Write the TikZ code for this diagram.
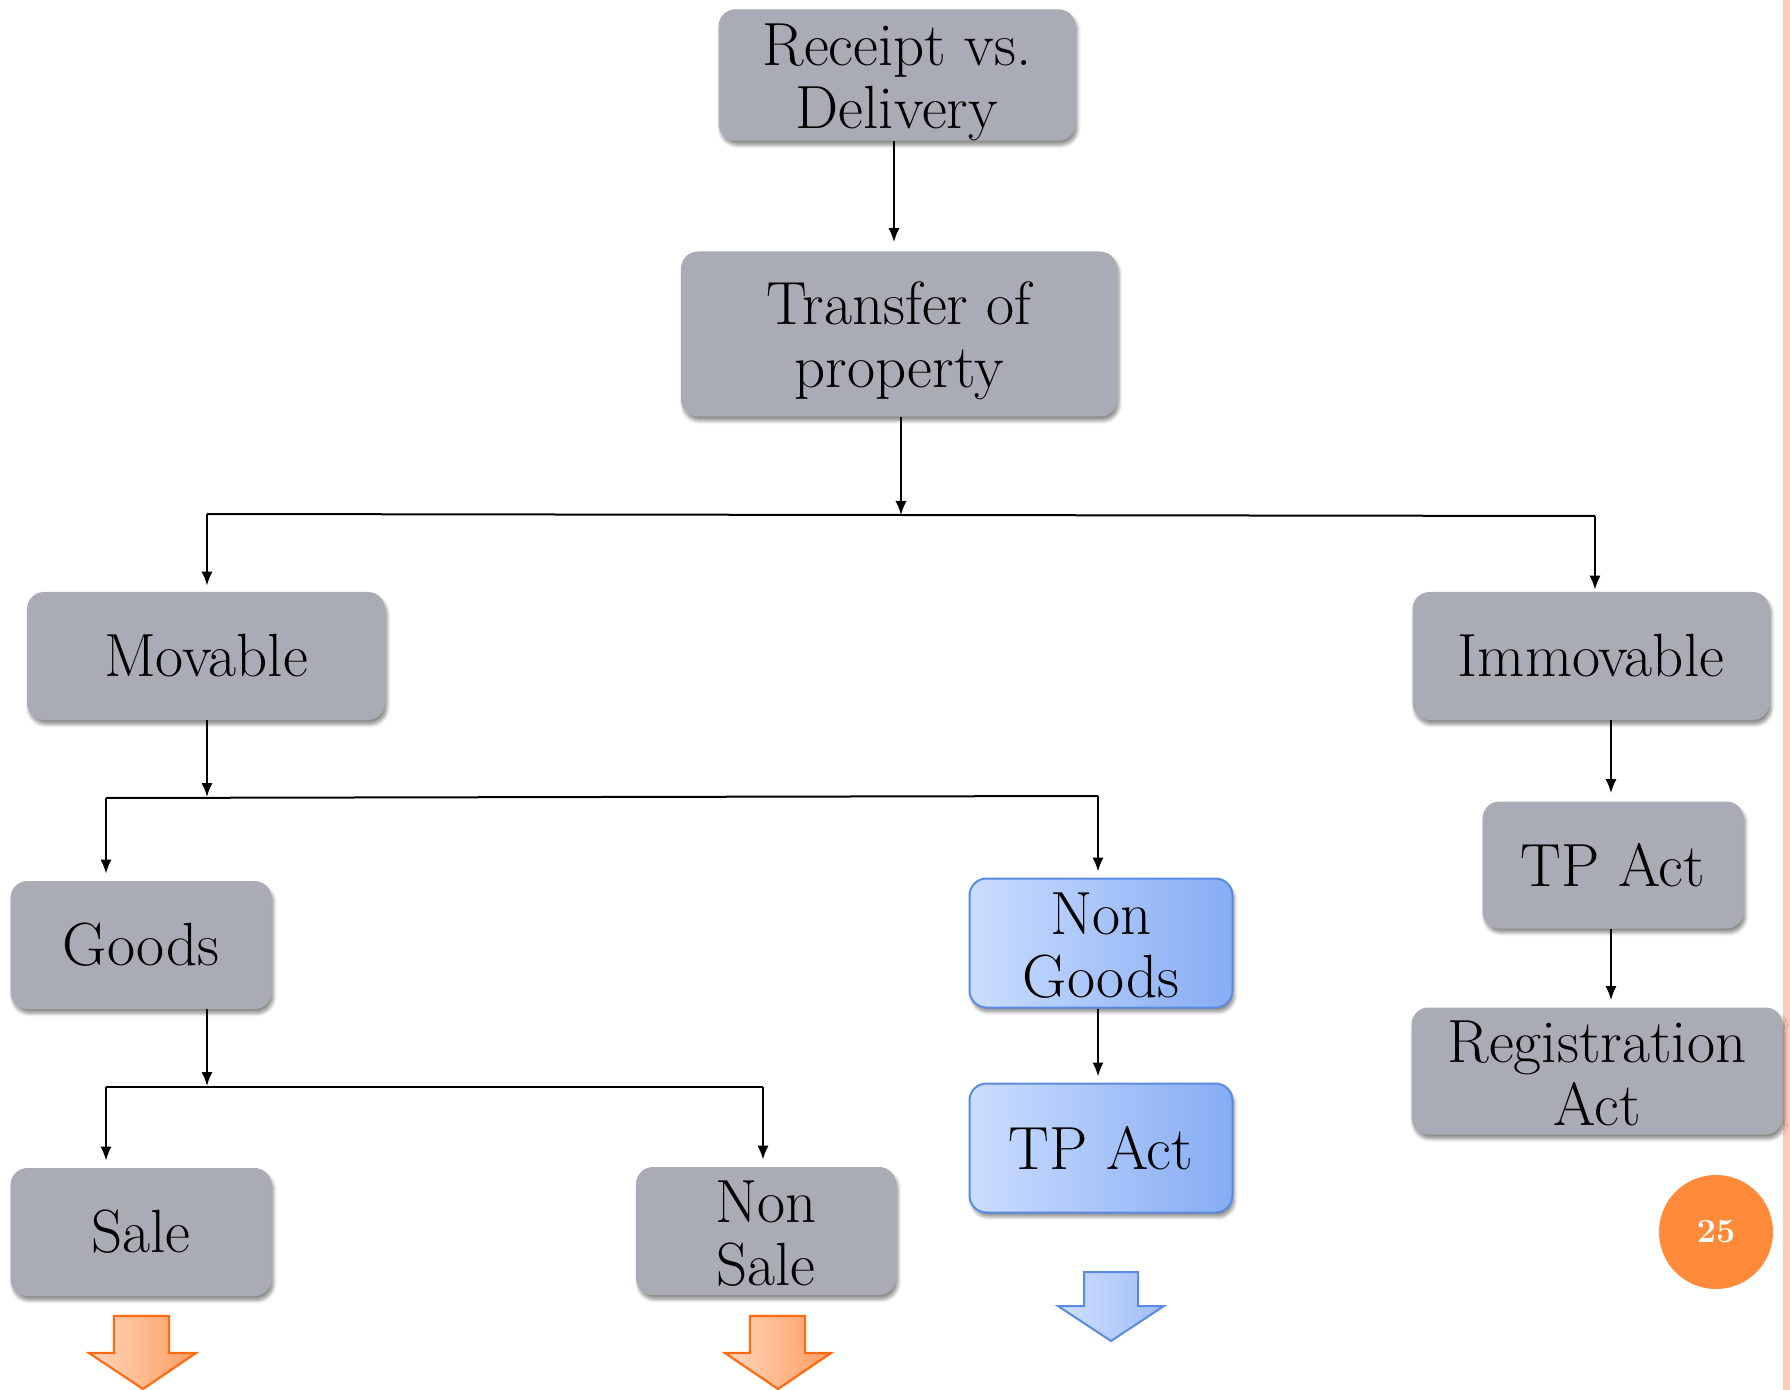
\documentclass[tikz,border=0pt]{standalone}
\usetikzlibrary{arrows.meta,shadows.blur}
\definecolor{boxgray}{HTML}{A9ACB4}
\definecolor{blueL}{HTML}{CBDDFF}
\definecolor{blueR}{HTML}{86ACF3}
\definecolor{blueEdge}{HTML}{5A8BE0}
\definecolor{orgL}{HTML}{FFD6BB}
\definecolor{orgR}{HTML}{FF9C62}
\definecolor{orgEdge}{HTML}{FF6A14}
\definecolor{badge}{HTML}{FF8A3A}
\definecolor{stripe}{HTML}{FDC9B8}
% taller first line so two-line labels sit a little lower in their boxes
\newcommand{\dropstrut}{\rule{0pt}{28pt}}
\newcommand{\smalldrop}{\rule{0pt}{23.5pt}}
\tikzset{
  box/.style={rounded corners=8.5pt, inner sep=0pt, align=center,
    font=\fontsize{30.5}{31.5}\selectfont,
    blur shadow={shadow xshift=1pt, shadow yshift=-2.2pt, shadow blur steps=6, shadow opacity=45}},
  graybox/.style={box, fill=boxgray},
  bluebox/.style={box, draw=blueEdge, line width=1pt, left color=blueL, right color=blueR},
  conn/.style={-{Latex[length=7pt,width=5.6pt]}, line width=1pt},
  wire/.style={line width=1pt},
  orangearrow/.style={draw=orgEdge, line width=1.1pt, line join=miter, left color=orgL, right color=orgR},
  bluearrow/.style={draw=blueEdge, line width=1pt, line join=miter, left color=blueL!90!white, right color=blueR!80!white}
}
\begin{document}
\begin{tikzpicture}[x=0.5pt,y=-0.5pt]
  \useasboundingbox (0,0) rectangle (1790,1390);
  \fill[stripe] (1783,0) rectangle (1790,1390);

  % boxes of the classification tree
  \node[graybox, minimum width=178.5pt, minimum height=64pt] (rec) at (897,75) {\dropstrut Receipt vs.\\Delivery};
  \node[graybox, minimum width=218pt, minimum height=82.5pt] (tr) at (899,334) {\dropstrut Transfer of\\property};
  \node[graybox, minimum width=179pt, minimum height=64pt] (mov) at (206,656) {Movable};
  \node[graybox, minimum width=178.5pt, minimum height=64pt] (imm) at (1591,656) {Immovable};
  \node[graybox, minimum width=130.5pt, minimum height=64pt] (goods) at (141,945) {Goods};
  \node[bluebox, minimum width=131.5pt, minimum height=64.5pt] (ngoods) at (1101,943) {\smalldrop Non\\Goods};
  \node[bluebox, minimum width=131.5pt, minimum height=64.5pt] (tpb) at (1101,1148) {TP Act};
  \node[graybox, minimum width=130.5pt, minimum height=64pt] (sale) at (141,1232) {Sale};
  \node[graybox, minimum width=130pt, minimum height=64pt] (nsale) at (766,1231) {\smalldrop Non\\Sale};
  \node[graybox, minimum width=130.5pt, minimum height=63.5pt] (tpr) at (1613,865) {TP Act};
  \node[graybox, minimum width=185.5pt, minimum height=63.5pt] (reg) at (1597,1071) {\smalldrop Registration\\Act};

  % branch points and drop lines
  \coordinate (c0) at (894,0);
  \coordinate (b1) at (901,515);
  \coordinate (b1l) at (207,514);
  \coordinate (b1r) at (1595,516);
  \coordinate (b2) at (207,797);
  \coordinate (b2l) at (106,798);
  \coordinate (b2r) at (1098,796);
  \coordinate (b3) at (207,1086);
  \coordinate (b3l) at (106,1087);
  \coordinate (b3r) at (763,1087);
  \coordinate (c4) at (1611,0);

  % connectors
  \draw[conn, shorten >=4.5pt] (rec.south -| c0) -- (tr.north -| c0);
  \draw[conn] (tr.south -| b1) -- (b1);
  \draw[wire] (b1l) -- (b1r);
  \draw[conn, shorten >=3pt] (b1l) -- (b1l |- mov.north);
  \draw[conn, shorten >=1pt] (b1r) -- (b1r |- imm.north);
  \draw[conn] (mov.south -| b2) -- (b2);
  \draw[wire] (b2l) -- (b2r);
  \draw[conn, shorten >=3.5pt] (b2l) -- (b2l |- goods.north);
  \draw[conn, shorten >=3pt] (b2r) -- (b2r |- ngoods.north);
  \draw[conn] (goods.south -| b3) -- (b3);
  \draw[wire] (b3l) -- (b3r);
  \draw[conn, shorten >=3.5pt] (b3l) -- (b3l |- sale.north);
  \draw[conn, shorten >=3.5pt] (b3r) -- (b3r |- nsale.north);
  \draw[conn, shorten >=3pt] (ngoods.south -| b2r) -- (tpb.north -| b2r);
  \draw[conn, shorten >=4pt] (imm.south -| c4) -- (tpr.north -| c4);
  \draw[conn, shorten >=3.5pt] (tpr.south -| c4) -- (reg.north -| c4);

  % block arrows below the leaves
  \draw[orangearrow] (114,1316) -- (169,1316) -- (169,1353) -- (196,1353) -- (143,1389)
    -- (89,1353) -- (114,1353) -- cycle;
  \draw[orangearrow] (750,1316) -- (805,1316) -- (805,1353) -- (831,1353) -- (778,1389)
    -- (725,1353) -- (750,1353) -- cycle;
  \draw[bluearrow] (1084,1272) -- (1138,1272) -- (1138,1306) -- (1164,1306) -- (1111,1341)
    -- (1058,1306) -- (1084,1306) -- cycle;

  % page badge
  \node[circle, fill=badge, minimum size=57pt, inner sep=0pt, text=white,
        font=\fontsize{17}{20}\selectfont\bfseries] (pg) at (1716,1232) {25};
\end{tikzpicture}
\end{document}
